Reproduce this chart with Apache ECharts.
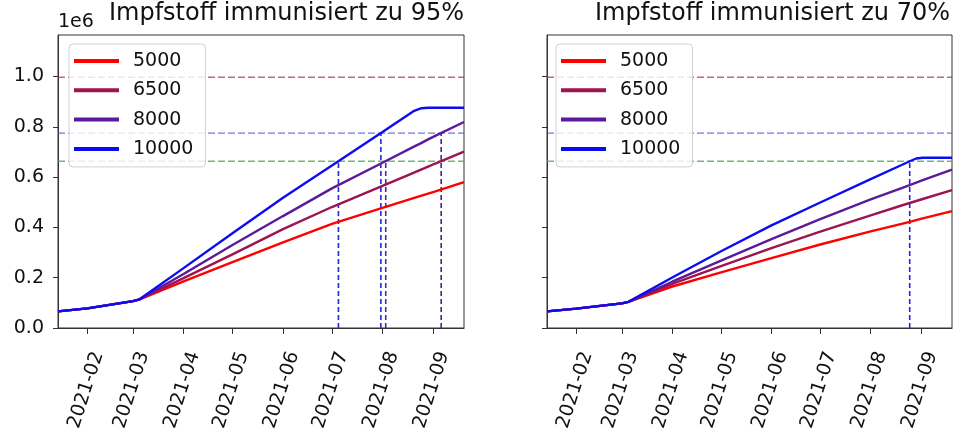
<!DOCTYPE html>
<html>
<head>
<meta charset="utf-8">
<script src="https://cdn.jsdelivr.net/npm/echarts@6/dist/echarts.min.js"></script>
<style>
html,body{margin:0;padding:0;background:#fff;}
#chart{width:953px;height:429px;}
</style>
</head>
<body>
<div id="chart"></div>
<script>
// ---- data ----
const titles = ['Impfstoff immunisiert zu 95%', 'Impfstoff immunisiert zu 70%'];
const seriesNames = ['5000', '6500', '8000', '10000'];
const dates = ['2021-01-14','2021-02-01','2021-03-01','2021-03-05','2021-04-01','2021-05-01','2021-06-01',
               '2021-07-01','2021-08-01','2021-08-20','2021-08-25','2021-08-29','2021-09-02','2021-09-20'];
// values in units of 1e6, 95% panel
const v95_5000  = [0.066,0.078,0.107,0.114,0.185,0.262,0.340,0.414,0.478,0.516,0.526,0.534,0.542,0.580];
const v95_6500  = [0.066,0.078,0.107,0.114,0.198,0.293,0.393,0.481,0.565,0.617,0.631,0.642,0.653,0.701];
const v95_8000  = [0.066,0.078,0.107,0.114,0.215,0.330,0.445,0.555,0.657,0.720,0.736,0.750,0.763,0.819];
const v95_10000 = [0.066,0.078,0.107,0.114,0.238,0.377,0.518,0.646,0.779,0.862,0.874,0.876,0.876,0.876];
// 70% panel
const v70_5000  = [0.066,0.077,0.098,0.104,0.165,0.221,0.278,0.332,0.384,0.414,0.422,0.429,0.436,0.465];
const v70_6500  = [0.066,0.077,0.098,0.104,0.175,0.246,0.318,0.383,0.448,0.487,0.497,0.505,0.513,0.548];
const v70_8000  = [0.066,0.077,0.098,0.104,0.184,0.268,0.353,0.433,0.511,0.556,0.568,0.578,0.588,0.630];
const v70_10000 = [0.066,0.077,0.098,0.104,0.201,0.305,0.408,0.499,0.592,0.648,0.663,0.674,0.677,0.677];
// horizontal reference levels
const thresholds = [0.997, 0.775, 0.663];
// vertical markers: date, level, series index
const markers95Dates  = ['2021-07-05','2021-07-31','2021-08-03','2021-09-06'];
const markers95Levels = [0.663, 0.775, 0.663, 0.775];
const markers95Series = [3, 3, 2, 2];
const markers70Dates  = ['2021-08-25'];
const markers70Levels = [0.663];
const markers70Series = [3];
const yTicks = [0, 0.2, 0.4, 0.6, 0.8, 1.0];
const xMin = '2021-01-14', xMax = '2021-09-20';

// ---- styles ----
const FONT = 'DejaVu Sans';
const lineColors = ['#ff0000', '#9e1450', '#5a1a9e', '#0c0cf2'];
const vColors = ['#ff0000', '#9e1450', '#4e22a8', '#2424d8'];
const refColors = ['rgba(175,55,80,0.75)', 'rgba(80,80,225,0.8)', 'rgba(90,170,90,0.85)'];

const panels = [
  {vals:[v95_5000,v95_6500,v95_8000,v95_10000], md:markers95Dates, ml:markers95Levels, ms:markers95Series},
  {vals:[v70_5000,v70_6500,v70_8000,v70_10000], md:markers70Dates, ml:markers70Levels, ms:markers70Series}
];
const gridLefts = [58, 547];
const gridWidths = [406, 405];

const grids = [], xAxes = [], yAxes = [], series = [], legends = [], titleOpts = [];
panels.forEach((p, g) => {
  grids.push({left: gridLefts[g], top: 35, width: gridWidths[g], height: 293,
              containLabel: false, outerBoundsMode: 'none',
              show: true, borderColor: '#333', borderWidth: 1, backgroundColor: 'transparent'});
  xAxes.push({
    type: 'time', gridIndex: g, min: xMin, max: xMax,
    minInterval: 28 * 86400000, maxInterval: 31 * 86400000,
    axisLine: {show: true, lineStyle: {color: '#333', width: 1}},
    axisTick: {show: true, length: 6, lineStyle: {color: '#333'}},
    splitLine: {show: false},
    axisLabel: {rotate: 72, fontSize: 19, fontFamily: FONT, color: '#111', margin: 6,
                padding: [32, 14, 0, 0],
                formatter: '{yyyy}-{MM}', showMinLabel: false, showMaxLabel: false, hideOverlap: false}
  });
  yAxes.push({
    type: 'value', gridIndex: g, min: 0, max: 1.165, interval: 0.2,
    name: g === 0 ? '1e6' : '', nameLocation: 'end', nameGap: 3,
    nameTextStyle: {align: 'left', verticalAlign: 'bottom', fontSize: 19, fontFamily: FONT, color: '#111'},
    axisLine: {show: true, lineStyle: {color: '#333', width: 1}},
    axisTick: {show: true, length: 5, lineStyle: {color: '#333'},
               customValues: yTicks},
    splitLine: {show: false},
    axisLabel: {show: g === 0, fontSize: 19, fontFamily: FONT, color: '#111', margin: 14,
                customValues: yTicks, formatter: v => v.toFixed(1)}
  });
  // reference horizontal lines
  thresholds.forEach((t, j) => {
    series.push({type: 'line', name: 'ref' + j, xAxisIndex: g, yAxisIndex: g, silent: true,
      data: [[xMin, t], [xMax, t]], symbol: 'none', z: 1,
      lineStyle: {color: refColors[j], width: 1.3, type: [7, 3]}});
  });
  // main lines
  p.vals.forEach((vals, k) => {
    series.push({type: 'line', name: seriesNames[k], xAxisIndex: g, yAxisIndex: g,
      data: dates.map((d, i) => [d, vals[i]]), symbol: 'none', showSymbol: false, z: 3,
      lineStyle: {color: lineColors[k], width: 2.4}, itemStyle: {color: lineColors[k]}});
  });
  // vertical markers
  p.md.forEach((d, m) => {
    series.push({type: 'line', name: 'v' + m, xAxisIndex: g, yAxisIndex: g, silent: true,
      data: [[d, 0], [d, p.ml[m]]], symbol: 'none', z: 2,
      lineStyle: {color: vColors[p.ms[m]], width: 1.6, type: [5, 3]}});
  });
  legends.push({
    data: seriesNames, orient: 'vertical', left: g === 0 ? 69 : 556, top: 44,
    icon: 'rect', itemWidth: 45, itemHeight: 4, itemGap: 9.3,
    padding: [7, 12, 8, 5], borderColor: '#d0d0d0', borderWidth: 1, borderRadius: 4,
    backgroundColor: 'rgba(255,255,255,0.82)', selectedMode: false,
    textStyle: {fontSize: 19, fontFamily: FONT, color: '#111', lineHeight: 20, padding: [0, 0, 0, 9]}
  });
  titleOpts.push({
    text: titles[g], right: g === 0 ? 953 - 464 : 3, top: 2, padding: 0,
    textStyle: {fontSize: 24, fontWeight: 'normal', fontFamily: FONT, color: '#111'}
  });
});

const chart = echarts.init(document.getElementById('chart'), null, {renderer: 'canvas'});
chart.setOption({
  animation: false,
  backgroundColor: '#fff',
  title: titleOpts,
  legend: legends,
  grid: grids,
  xAxis: xAxes,
  yAxis: yAxes,
  series: series
});
</script>
</body>
</html>
